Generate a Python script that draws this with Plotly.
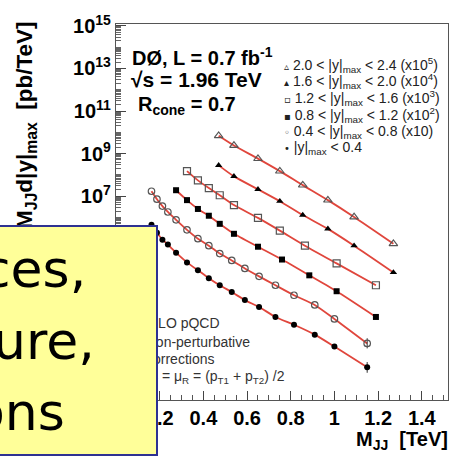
import plotly.graph_objects as go

# ---- Dijet mass points (TeV) per |y|max region ----
mjj_y00_04 = [0.1625, 0.1875, 0.2125, 0.2375, 0.275, 0.325, 0.375, 0.425, 0.475,
              0.53, 0.59, 0.655, 0.73, 0.815, 0.91, 1.0, 1.15]
mjj_y04_08 = [0.1625, 0.1875, 0.2125, 0.2375, 0.275, 0.325, 0.375, 0.425, 0.475,
              0.53, 0.59, 0.655, 0.73, 0.815, 0.91, 1.0, 1.15]
mjj_y08_12 = [0.275, 0.325, 0.375, 0.425, 0.475, 0.54, 0.65, 0.76, 0.885, 1.01, 1.19]
mjj_y12_16 = [0.325, 0.375, 0.425, 0.475, 0.54, 0.65, 0.75, 0.865, 1.01, 1.19]
mjj_y16_20 = [0.47, 0.54, 0.65, 0.75, 0.855, 0.97, 1.09, 1.27]
mjj_y20_24 = [0.47, 0.54, 0.65, 0.75, 0.855, 0.97, 1.09, 1.27]

# ---- Measured cross sections d2sigma/dMJJ d|y|max (pb/TeV), before scaling ----
xs_y00_04 = [4.5e5, 1.9e5, 9.0e4, 5.3e4, 2.2e4, 7.7e3, 3.3e3, 1.4e3, 6.5e2,
             3.1e2, 1.3e2, 62, 21, 9.0, 3.1, 0.85, 0.090]
xs_y04_08 = [1.7e6, 7.2e5, 3.4e5, 1.8e5, 7.7e4, 2.6e4, 1.0e4, 4.7e3, 2.0e3,
             9.5e2, 4.0e2, 1.7e2, 65, 22, 7.7, 1.7, 0.12]
xs_y08_12 = [1.9e5, 6.5e4, 2.5e4, 1.2e4, 5.0e3, 1.7e3, 4.2e2, 1.05e2, 19, 3.4, 0.21]
xs_y12_16 = [1.5e5, 5.5e4, 2.4e4, 1.1e4, 3.8e3, 9.5e2, 2.4e2, 47, 6.9, 0.65]
xs_y16_20 = [2.8e4, 8.5e3, 2.1e3, 5.8e2, 1.3e2, 29, 4.7, 0.26]
xs_y20_24 = [6.9e4, 2.4e4, 5.8e3, 1.5e3, 3.3e2, 65, 10.5, 0.58]

# Statistical uncertainties (only visible in the highest mass bins)
err_up_y00_04 = [0] * 16 + [0.07]
err_dn_y00_04 = [0] * 16 + [0.04]
err_up_y04_08 = [0] * 16 + [0.09]
err_dn_y04_08 = [0] * 16 + [0.05]

# Scale factors applied for display
scale_factors = [1, 10, 1e2, 1e3, 1e4, 1e5]

region_labels = [
    "|y|<sub>max</sub> &lt; 0.4",
    "0.4 &lt; |y|<sub>max</sub> &lt; 0.8 (x10)",
    "0.8 &lt; |y|<sub>max</sub> &lt; 1.2 (x10<sup>2</sup>)",
    "1.2 &lt; |y|<sub>max</sub> &lt; 1.6 (x10<sup>3</sup>)",
    "1.6 &lt; |y|<sub>max</sub> &lt; 2.0 (x10<sup>4</sup>)",
    "2.0 &lt; |y|<sub>max</sub> &lt; 2.4 (x10<sup>5</sup>)",
]
legend_glyphs = ["•", "◦", "▪", "▫", "▴", "▵"]

x_tick_vals = [0.2, 0.4, 0.6, 0.8, 1.0, 1.2, 1.4]
x_tick_text = ["0.2", "0.4", "0.6", "0.8", "1", "1.2", "1.4"]
y_tick_exps = [-1, 1, 3, 5, 7, 9, 11, 13, 15]

series = [
    (mjj_y00_04, xs_y00_04, err_up_y00_04, err_dn_y00_04),
    (mjj_y04_08, xs_y04_08, err_up_y04_08, err_dn_y04_08),
    (mjj_y08_12, xs_y08_12, None, None),
    (mjj_y12_16, xs_y12_16, None, None),
    (mjj_y16_20, xs_y16_20, None, None),
    (mjj_y20_24, xs_y20_24, None, None),
]
marker_styles = [
    dict(symbol="circle", size=6, color="black"),
    dict(symbol="circle-open", size=6.5, color="#555555", line=dict(width=1.2, color="#555555")),
    dict(symbol="square", size=6, color="black"),
    dict(symbol="square-open", size=7, color="#555555", line=dict(width=1.2, color="#555555")),
    dict(symbol="triangle-up", size=6.5, color="black"),
    dict(symbol="triangle-up-open", size=7.5, color="#555555", line=dict(width=1.2, color="#555555")),
]

THEORY_RED = "#e0463c"

fig = go.Figure()

# NLO pQCD + non-perturbative corrections curves
for (mx, xs, eu, ed), sf in zip(series, scale_factors):
    fig.add_trace(go.Scatter(
        x=mx, y=[v * sf for v in xs], mode="lines",
        line=dict(color=THEORY_RED, width=1.8, shape="spline", smoothing=0.6),
        hoverinfo="skip", showlegend=False))

# Data points
for (mx, xs, eu, ed), sf, ms, name in zip(series, scale_factors, marker_styles, region_labels):
    err = None
    if eu is not None:
        err = dict(type="data", symmetric=False,
                   array=[e * sf for e in eu], arrayminus=[e * sf for e in ed],
                   color="#333333", thickness=1, width=0)
    fig.add_trace(go.Scatter(
        x=mx, y=[v * sf for v in xs], mode="markers", marker=ms,
        error_y=err, name=name, showlegend=False))

# ---- Layout geometry ----
W, H = 461, 461
L, R, T, B = 116, 12, 20, 61
PW, PH = W - L - R, H - T - B


def px(xp):
    return (xp - L) / PW


def py(yp):
    return 1 - (yp - T) / PH


minor_y = [k * 10.0 ** e for e in range(-3, 16) for k in range(2, 10)] + [10.0 ** e for e in range(-3, 16)]
minor_x = [i * 0.05 for i in range(0, 31)]

axis_font = dict(family="Liberation Sans, Arial", size=20, color="black", weight="bold")

fig.update_xaxes(
    range=[0, 1.52], showgrid=False, zeroline=False,
    showline=True, linecolor="#555555", linewidth=1.2, mirror=True,
    ticks="inside", ticklen=9, tickwidth=1, tickcolor="#444444",
    tickmode="array", tickvals=x_tick_vals, ticktext=x_tick_text,
    tickfont=axis_font,
    minor=dict(ticks="inside", ticklen=4.5, tickwidth=1, tickcolor="#555555",
               tickmode="array", tickvals=minor_x),
)
fig.update_yaxes(
    type="log", range=[-2.58, 15.09], showgrid=False, zeroline=False,
    showline=True, linecolor="#555555", linewidth=1.2, mirror=True,
    ticks="inside", ticklen=10, tickwidth=1, tickcolor="#444444",
    tickmode="array", tickvals=[10.0 ** e for e in y_tick_exps],
    ticktext=["10<sup>%d</sup>" % e for e in y_tick_exps],
    tickfont=axis_font,
    minor=dict(ticks="inside", ticklen=5, tickwidth=1, tickcolor="#666666",
               tickmode="array", tickvals=minor_y),
)

ann = []
bold = dict(family="Liberation Sans, Arial", size=20, color="black", weight="bold")

# Axis titles
ann.append(dict(text="d<sup>2</sup>σ/dM<sub>JJ</sub>d|y|<sub>max</sub>  [pb/TeV]",
                textangle=-90, x=px(24), y=py(16), xanchor="center", yanchor="top",
                font=dict(bold, size=22.5)))
ann.append(dict(text="M<sub>JJ</sub>  [TeV]", x=px(451), y=py(441),
                xanchor="right", yanchor="middle", font=dict(bold, size=20)))

# Experiment labels
ann.append(dict(text="DØ, L = 0.7 fb<sup>-1</sup>", x=px(130), y=py(53),
                xanchor="left", yanchor="middle", font=bold))
ann.append(dict(text="√s = 1.96 TeV", x=px(129), y=py(76),
                xanchor="left", yanchor="middle", font=dict(bold, size=21)))
ann.append(dict(text="R<sub>cone</sub> = 0.7", x=px(136), y=py(102),
                xanchor="left", yanchor="middle", font=bold))

# Region legend (top right), drawn from the top row down
leg_font = dict(family="Liberation Sans, Arial", size=14, color="#222222")
row_y = [61, 78, 95, 112, 129, 145]
for i, k in enumerate(reversed(range(6))):
    ann.append(dict(
        text="<span style='font-family:DejaVu Sans;font-size:10px'>%s</span> %s"
             % (legend_glyphs[k], region_labels[k]),
        x=px(282), y=py(row_y[i]), xanchor="left", yanchor="middle", font=leg_font))

# Theory description (bottom left)
th_font = dict(family="Liberation Sans, Arial", size=14, color="#333333")
theory_lines = [
    ("NLO pQCD", 222, 322),
    ("+ non-perturbative", 252, 341),
    ("corrections", 216, 359),
    ("μ<sub>F</sub> = μ<sub>R</sub> = (p<sub>T1</sub> + p<sub>T2</sub>) /2", 288, 377),
]
for txt, xr, yc in theory_lines:
    ann.append(dict(text=txt, x=px(xr), y=py(yc), xanchor="right", yanchor="middle",
                    font=th_font))

# Overlaid yellow call-out box
ann.append(dict(text=" ", x=px(158), y=py(223), xanchor="right", yanchor="top",
                width=166, height=227, bgcolor="#ffff99", bordercolor="#2e3192",
                borderwidth=2, borderpad=0, font=dict(size=10)))
box_font = dict(family="DejaVu Sans", size=52, color="black")
for txt, xr, yc in [("ces,", 88, 268), ("ure,", 97, 340), ("ons", 67, 412)]:
    ann.append(dict(text=txt, x=px(xr), y=py(yc), xanchor="right", yanchor="middle",
                    font=box_font))

for a in ann:
    a.setdefault("xref", "paper")
    a.setdefault("yref", "paper")
    a.setdefault("showarrow", False)

fig.update_layout(
    width=W, height=H, margin=dict(l=L, r=R, t=T, b=B),
    paper_bgcolor="white", plot_bgcolor="white", showlegend=False,
    annotations=ann,
)

fig.write_html("out.html")
